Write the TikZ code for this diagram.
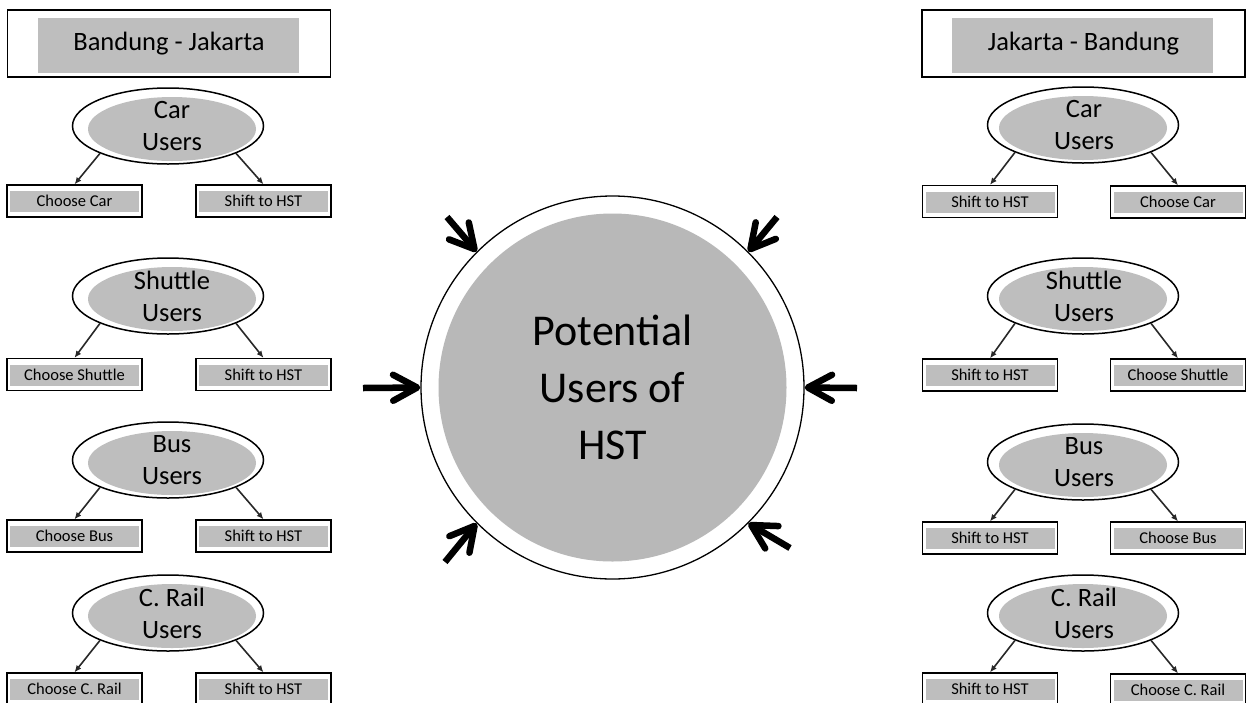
\documentclass[tikz,border=0pt]{standalone}
\usepackage{fontspec}
\setmainfont{Carlito}
\usetikzlibrary{shapes.geometric,arrows.meta}
\definecolor{fillgray}{RGB}{190,190,190}
\definecolor{circgray}{RGB}{184,184,184}
\definecolor{conncol}{RGB}{40,40,40}
\tikzset{
  hdr/.style={draw=black, line width=1.2pt, fill=white, minimum width=323pt, minimum height=67pt, inner sep=0pt,
    font=\fontsize{26.5}{30}\selectfont,
    path picture={\fill[fillgray] ([xshift=30pt,yshift=-7.5pt]path picture bounding box.north west) rectangle ([xshift=-32pt,yshift=4pt]path picture bounding box.south east);}},
  optbox/.style={draw=black, line width=1.3pt, fill=white, minimum width=135pt, minimum height=32pt, inner sep=0pt,
    font=\fontsize{16.5}{18}\selectfont,
    path picture={\fill[fillgray] ([xshift=3pt,yshift=-6pt]path picture bounding box.north west) rectangle ([xshift=-3pt,yshift=5pt]path picture bounding box.south east);}},
  uo/.style={ellipse, draw=black, line width=1.5pt, fill=white, minimum width=191pt, minimum height=76pt, inner sep=0pt,
    path picture={\fill[fillgray] ([shift={(#1,-3pt)}]path picture bounding box.center) ellipse (84pt and 32pt);}},
  uo/.default=0pt,
  ut/.style={align=center, inner sep=0pt, font=\fontsize{26.5}{32}\selectfont},
  conn/.style={draw=conncol, line width=1.6pt, -{Latex[length=7pt,width=6pt]}},
  hstc/.style={circle, draw=black, line width=1.3pt, fill=white, minimum size=383pt, inner sep=0pt, align=center,
    font=\fontsize{44}{57}\selectfont,
    path picture={\fill[circgray] (path picture bounding box.center) circle (174pt);}},
  bigarr/.style={line width=6.5pt, -{Straight Barb[length=24pt,width=26pt,line width=6.5pt,line cap=round,line join=round]}}
}
\begin{document}
\begin{tikzpicture}[x=1pt,y=-1pt]
\useasboundingbox (0,0) rectangle (1249,702);

% ---------- left column ----------
\node[hdr] (lhead) at (169,43.5) {Bandung - Jakarta};

\node[uo=4pt] (lcar) at (168,126) {};
\node[ut] (lcart) at (172,126) {Car\\Users};
\node[optbox] (lcar1) at (74.5,201) {Choose Car};
\node[optbox] (lcar2) at (263.5,201) {Shift to HST};
\draw[conn] (lcar.south west) -- (lcar1.north);
\draw[conn] (lcar.south east) -- (lcar2.north);

\node[uo=4pt] (lsh) at (168,296) {};
\node[ut] (lsht) at (172,296) {Shuttle\\Users};
\node[optbox] (lsh1) at (74.5,374.5) {Choose Shuttle};
\node[optbox] (lsh2) at (263.5,374.5) {Shift to HST};
\draw[conn] (lsh.south west) -- (lsh1.north);
\draw[conn] (lsh.south east) -- (lsh2.north);

\node[uo=4pt] (lbus) at (168,460) {};
\node[ut] (lbust) at (172,460) {Bus\\Users};
\node[optbox] (lbus1) at (74.5,536) {Choose Bus};
\node[optbox] (lbus2) at (263.5,536) {Shift to HST};
\draw[conn] (lbus.south west) -- (lbus1.north);
\draw[conn] (lbus.south east) -- (lbus2.north);

\node[uo=4pt] (lrail) at (168,613) {};
\node[ut] (lrailt) at (172,613) {C. Rail\\Users};
\node[optbox] (lrail1) at (74.5,689) {Choose C. Rail};
\node[optbox] (lrail2) at (263.5,689) {Shift to HST};
\draw[conn] (lrail.south west) -- (lrail1.north);
\draw[conn] (lrail.south east) -- (lrail2.north);

% ---------- right column ----------
\node[hdr] (rhead) at (1083.5,43.5) {Jakarta - Bandung};

\node[uo] (rcar) at (1083,125) {};
\node[ut] (rcart) at (1084,125) {Car\\Users};
\node[optbox] (rcar1) at (990,201.5) {Shift to HST};
\node[optbox] (rcar2) at (1178,202) {Choose Car};
\draw[conn] (rcar.south west) -- (rcar1.north);
\draw[conn] (rcar.south east) -- (rcar2.north);

\node[uo] (rsh) at (1083,296) {};
\node[ut] (rsht) at (1084,296) {Shuttle\\Users};
\node[optbox] (rsh1) at (990,375) {Shift to HST};
\node[optbox] (rsh2) at (1178,375) {Choose Shuttle};
\draw[conn] (rsh.south west) -- (rsh1.north);
\draw[conn] (rsh.south east) -- (rsh2.north);

\node[uo] (rbus) at (1083,462) {};
\node[ut] (rbust) at (1084,462) {Bus\\Users};
\node[optbox] (rbus1) at (990,538) {Shift to HST};
\node[optbox] (rbus2) at (1178,538) {Choose Bus};
\draw[conn] (rbus.south west) -- (rbus1.north);
\draw[conn] (rbus.south east) -- (rbus2.north);

\node[uo] (rrail) at (1083,613) {};
\node[ut] (rrailt) at (1084,613) {C. Rail\\Users};
\node[optbox] (rrail1) at (990,689) {Shift to HST};
\node[optbox] (rrail2) at (1178,690) {Choose C. Rail};
\draw[conn] (rrail.south west) -- (rrail1.north);
\draw[conn] (rrail.south east) -- (rrail2.north);

% ---------- centre ----------
\node[hstc] (hst) at (612.5,387.5) {Potential\\Users of\\HST};

\coordinate (aul) at (447,217);
\coordinate (aur) at (777,217);
\coordinate (al)  at (363,388);
\coordinate (ar)  at (857,388);
\coordinate (all) at (445,562);
\coordinate (alr) at (790,548);
\draw[bigarr] (aul) -- (hst.135);
\draw[bigarr] (aur) -- (hst.45);
\draw[bigarr] (al)  -- (hst.180);
\draw[bigarr] (ar)  -- (hst.0);
\draw[bigarr] (all) -- (hst.225);
\draw[bigarr] (alr) -- (hst.315);
\end{tikzpicture}
\end{document}
